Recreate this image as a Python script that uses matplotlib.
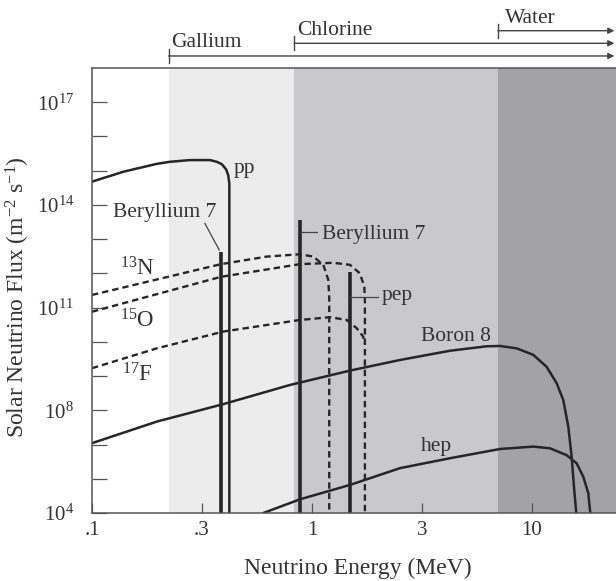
import matplotlib
matplotlib.use("Agg")
import matplotlib.pyplot as plt
from matplotlib.ticker import NullFormatter, NullLocator

plt.rcParams['font.family'] = ['Liberation Serif', 'DejaVu Serif']
plt.rcParams['mathtext.fontset'] = 'custom'
plt.rcParams['mathtext.rm'] = 'Liberation Serif'
plt.rcParams['mathtext.it'] = 'Liberation Serif:italic'
plt.rcParams['mathtext.bf'] = 'Liberation Serif:bold'

# energies in MeV, fluxes as log10 (m^-2 s^-1)
pp_E = [0.1, 0.139, 0.197, 0.226, 0.279, 0.344, 0.369, 0.389, 0.407, 0.416, 0.421, 0.421]
pp_logF = [14.68, 14.97, 15.20, 15.26, 15.31, 15.31, 15.26, 15.19, 15.04, 14.87, 14.63, 4.0]

n13_E = [0.1, 0.386, 0.622, 0.882, 1.014, 1.126, 1.186, 1.198, 1.198]
n13_logF = [11.37, 12.27, 12.49, 12.56, 12.49, 12.25, 11.81, 11.3, 4.0]

o15_E = [0.1, 0.386, 0.882, 1.250, 1.488, 1.652, 1.729, 1.74, 1.74]
o15_logF = [10.88, 11.90, 12.27, 12.31, 12.25, 12.00, 11.61, 11.2, 4.0]

f17_E = [0.1, 0.197, 0.395, 0.882, 1.207, 1.438, 1.596, 1.710, 1.74]
f17_logF = [9.23, 9.81, 10.30, 10.64, 10.72, 10.64, 10.40, 10.15, 9.95]

b8_E = [0.1, 0.197, 0.395, 0.794, 1.488, 2.512, 4.24, 6.22, 7.15, 8.52, 10.14, 11.66,
        12.95, 13.88, 14.63, 15.15, 15.52, 16.0]
b8_logF = [7.04, 7.67, 8.18, 8.74, 9.16, 9.47, 9.74, 9.87, 9.88, 9.81, 9.62, 9.27,
           8.79, 8.30, 7.52, 6.64, 5.77, 4.8]

hep_E = [0.601, 0.882, 1.488, 2.512, 4.24, 5.05, 7.15, 10.14, 12.07, 14.38, 15.97,
         17.11, 18.03, 18.55]
hep_logF = [5.0, 5.40, 5.82, 6.31, 6.60, 6.69, 6.87, 6.94, 6.89, 6.69, 6.45,
            6.06, 5.58, 4.8]

# line spectra: Be7 (two lines) and pep
line_E = [0.386, 0.885, 1.49]
line_logF = [12.62, 13.56, 12.04]

# detector thresholds (MeV)
det_names = ['Gallium', 'Chlorine', 'Water']
det_E = [0.223, 0.83, 7.0]
det_colors = ['#ececec', '#c9c9cb', '#a3a3a5']

xtick_pos = [0.1, 10 ** -0.5, 1, 10 ** 0.5, 10]
xtick_labels = ['.1', '.3', '1', '3', '10']
ytick_pos = [1e5, 1e8, 1e11, 1e14, 1e17]
ytick_labels = ['$10^4$', '$10^8$', '$10^{11}$', '$10^{14}$', '$10^{17}$']

ink = '#262626'
txt = '#333333'
xmax = 24.1

fig = plt.figure(figsize=(6.16, 5.81), dpi=100)
ax = fig.add_axes([92 / 616, 68 / 581, 1 - 92 / 616, 445 / 581])
ax.set_xscale('log')
ax.set_yscale('log')
ax.set_xlim(0.1, xmax)
ax.set_ylim(1e5, 1e18)

# shaded detector ranges
bounds = det_E + [xmax]
for i in range(3):
    ax.axvspan(bounds[i], bounds[i + 1], color=det_colors[i], lw=0, zorder=0)

dash = (0, (2.7, 1.7))
ax.plot(pp_E, [10 ** v for v in pp_logF], color=ink, lw=1.8)
ax.plot(b8_E, [10 ** v for v in b8_logF], color=ink, lw=1.8)
ax.plot(hep_E, [10 ** v for v in hep_logF], color=ink, lw=1.8)
for E, lf in [(n13_E, n13_logF), (o15_E, o15_logF), (f17_E, f17_logF)]:
    ax.plot(E, [10 ** v for v in lf], color=ink, lw=1.7, ls=dash)
ax.vlines(line_E, 1e4, [10 ** v for v in line_logF], color=ink, lw=2.6)

# labels on the curves
fs = 15.5
ax.text(0.442, 10 ** 14.93, 'pp', fontsize=fs, color=txt)
ax.text(0.214, 10 ** 13.65, 'Beryllium 7', fontsize=fs, color=txt, ha='center')
ax.plot([0.326, 0.379], [10 ** 13.46, 10 ** 12.68], color='#444444', lw=0.9)
ax.text(1.107, 10 ** 13.0, 'Beryllium 7', fontsize=fs, color=txt)
ax.plot([0.885, 1.05], [10 ** 13.20, 10 ** 13.20], color='#444444', lw=0.9)
ax.text(2.074, 10 ** 11.22, 'pep', fontsize=fs, color=txt)
ax.plot([1.49, 2.0], [10 ** 11.31, 10 ** 11.31], color='#444444', lw=0.9)
ax.text(4.52, 10 ** 10.02, 'Boron 8', fontsize=fs, color=txt, ha='center')
ax.text(3.67, 10 ** 6.81, 'hep', fontsize=fs, color=txt, ha='center')
ax.text(0.161, 10 ** 11.95, '$^{13}$N', fontsize=fs + 1, color=txt, ha='center')
ax.text(0.161, 10 ** 10.43, '$^{15}$O', fontsize=fs + 1, color=txt, ha='center')
ax.text(0.161, 10 ** 8.83, '$^{17}$F', fontsize=fs + 1, color=txt, ha='center')

# detector arrows above the plot
trans = ax.get_xaxis_transform()
arrow_y = [1.027, 1.0555, 1.0838]
label_x = [0.228, 0.852, 7.54]
label_y = [1.048, 1.074, 1.1018]
for i in range(3):
    y = arrow_y[i]
    ax.annotate('', xy=(23.7, y), xytext=(det_E[i], y), xycoords=trans,
                textcoords=trans, annotation_clip=False,
                arrowprops=dict(arrowstyle='-|>', lw=1.0, color='#444444',
                                mutation_scale=9, shrinkA=0, shrinkB=0))
    ax.plot([det_E[i], det_E[i]], [y - 0.016, y + 0.016], transform=trans,
            color='#444444', lw=1.0, clip_on=False)
    ax.text(label_x[i], label_y[i], det_names[i], transform=trans,
            fontsize=fs, color=txt)

ax.set_xticks(xtick_pos, xtick_labels)
ax.xaxis.set_minor_locator(NullLocator())
ax.set_yticks(ytick_pos, ytick_labels)
ax.set_yticks([10.0 ** k for k in range(5, 18)], minor=True)
ax.yaxis.set_minor_formatter(NullFormatter())
ax.tick_params(axis='y', which='both', direction='in', length=10.5, width=0.9,
               color='#555555', pad=13, labelsize=15, labelcolor=txt)
ax.tick_params(axis='x', which='both', direction='in', length=7.2, width=0.9,
               color='#555555', pad=6, labelsize=15, labelcolor=txt)

for s in ['left', 'top', 'bottom']:
    ax.spines[s].set_color('#555555')
    ax.spines[s].set_linewidth(1.1)
ax.spines['right'].set_visible(False)

ax.set_xlabel('Neutrino Energy (MeV)', fontsize=17, color=txt, va='center')
ax.xaxis.set_label_coords(0.5067, -0.1236)
ax.set_ylabel('Solar Neutrino Flux (m$^{-2}$ s$^{-1}$)', fontsize=17,
              color=txt, va='center')
ax.yaxis.set_label_coords(-0.1406, 0.485)

fig.savefig('out.png', dpi=100)
